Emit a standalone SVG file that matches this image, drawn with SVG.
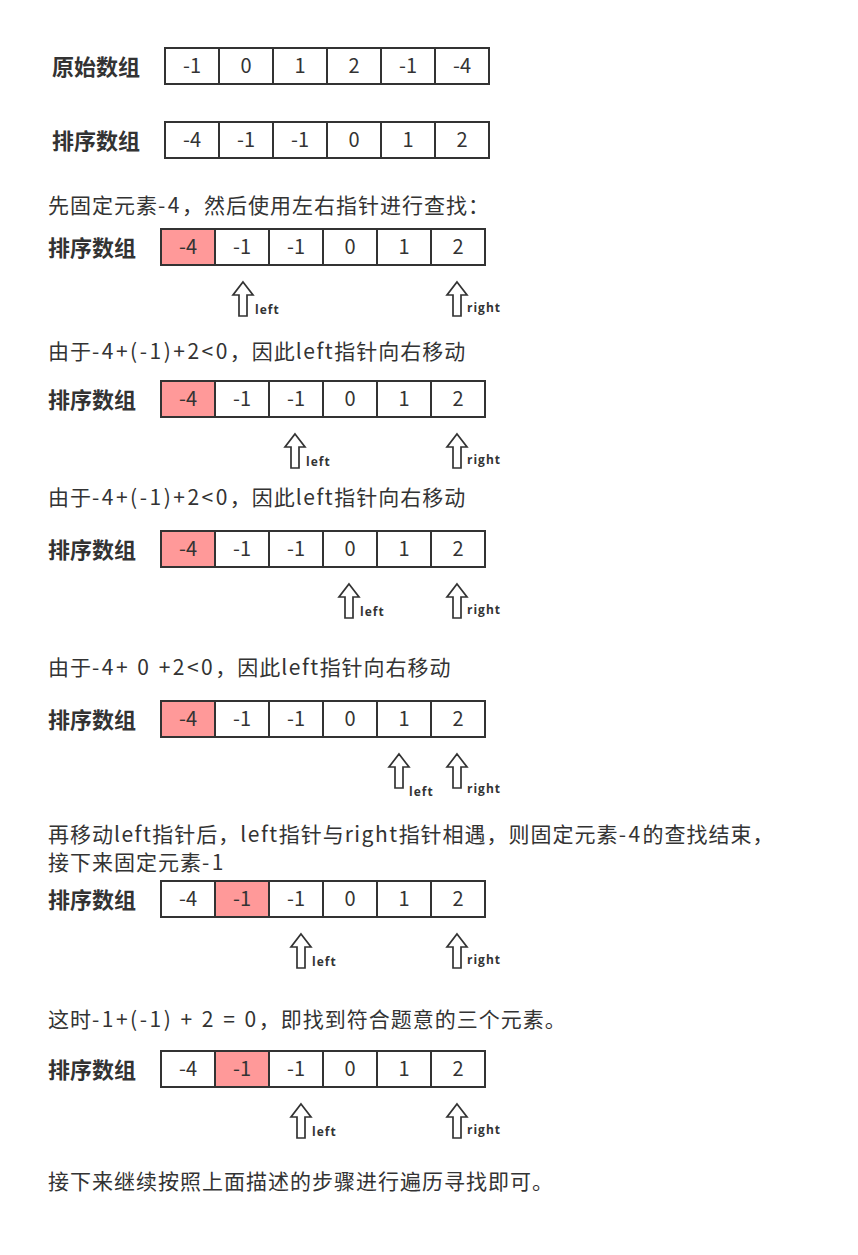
<svg xmlns="http://www.w3.org/2000/svg" xmlns:xlink="http://www.w3.org/1999/xlink" width="858" height="1255" viewBox="0 0 858 1255">
<style>
.bg{fill:#ffffff}
.cell{fill:#ffffff;stroke:#333333;stroke-width:2}
.hot{fill:#ff9999;stroke:#333333;stroke-width:2}
.num{font-family:"Noto Sans CJK SC","Noto Sans",sans-serif;font-size:20px;fill:#333333;text-anchor:middle}
.lab{font-family:"Noto Sans CJK SC",sans-serif;font-size:22px;font-weight:bold;fill:#333333}
.txt{font-family:"Noto Sans CJK SC",sans-serif;font-size:21px;fill:#333333;letter-spacing:1px}
.f{letter-spacing:2.5px}
.w{letter-spacing:1.5px}
.ptr{font-family:"Open Sans","Noto Sans",sans-serif;font-size:12px;font-weight:bold;fill:#333333;letter-spacing:1px}
.arr{fill:#ffffff;stroke:#333333;stroke-width:1.7;stroke-linejoin:miter}
</style>
<defs>
<path id="arrow" class="arr" d="M0,0 L10,13 L4,13 L4,34 L-4,34 L-4,13 L-10,13 Z"/>
</defs>
<rect class="bg" x="0" y="0" width="858" height="1255"/>

<g id="row-original">
<text class="lab" x="52" y="75">原始数组</text>
<rect class="cell" x="165" y="48" width="54" height="36"/><rect class="cell" x="219" y="48" width="54" height="36"/><rect class="cell" x="273" y="48" width="54" height="36"/><rect class="cell" x="327" y="48" width="54" height="36"/><rect class="cell" x="381" y="48" width="54" height="36"/><rect class="cell" x="435" y="48" width="54" height="36"/>
<text class="num" x="192" y="73">-1</text><text class="num" x="246" y="73">0</text><text class="num" x="300" y="73">1</text><text class="num" x="354" y="73">2</text><text class="num" x="408" y="73">-1</text><text class="num" x="462" y="73">-4</text>
</g>

<g id="row-sorted">
<text class="lab" x="52" y="149">排序数组</text>
<rect class="cell" x="165" y="122" width="54" height="36"/><rect class="cell" x="219" y="122" width="54" height="36"/><rect class="cell" x="273" y="122" width="54" height="36"/><rect class="cell" x="327" y="122" width="54" height="36"/><rect class="cell" x="381" y="122" width="54" height="36"/><rect class="cell" x="435" y="122" width="54" height="36"/>
<text class="num" x="192" y="147">-4</text><text class="num" x="246" y="147">-1</text><text class="num" x="300" y="147">-1</text><text class="num" x="354" y="147">0</text><text class="num" x="408" y="147">1</text><text class="num" x="462" y="147">2</text>
</g>

<text class="txt" x="48" y="213">先固定元素<tspan class="f">-4</tspan>，然后使用左右指针进行查找：</text>

<g id="step1">
<text class="lab" x="48" y="256">排序数组</text>
<rect class="hot" x="161" y="229" width="54" height="36"/><rect class="cell" x="215" y="229" width="54" height="36"/><rect class="cell" x="269" y="229" width="54" height="36"/><rect class="cell" x="323" y="229" width="54" height="36"/><rect class="cell" x="377" y="229" width="54" height="36"/><rect class="cell" x="431" y="229" width="54" height="36"/>
<text class="num" x="188" y="254">-4</text><text class="num" x="242" y="254">-1</text><text class="num" x="296" y="254">-1</text><text class="num" x="350" y="254">0</text><text class="num" x="404" y="254">1</text><text class="num" x="458" y="254">2</text>
<use xlink:href="#arrow" x="243" y="282"/><text class="ptr" x="255" y="314">left</text>
<use xlink:href="#arrow" x="457" y="282"/><text class="ptr" x="467" y="312">right</text>
</g>

<text class="txt" x="48" y="359">由于<tspan class="f">-4+(-1)+2&lt;0</tspan>，因此<tspan class="w">left</tspan>指针向右移动</text>

<g id="step2">
<text class="lab" x="48" y="408">排序数组</text>
<rect class="hot" x="161" y="381" width="54" height="36"/><rect class="cell" x="215" y="381" width="54" height="36"/><rect class="cell" x="269" y="381" width="54" height="36"/><rect class="cell" x="323" y="381" width="54" height="36"/><rect class="cell" x="377" y="381" width="54" height="36"/><rect class="cell" x="431" y="381" width="54" height="36"/>
<text class="num" x="188" y="406">-4</text><text class="num" x="242" y="406">-1</text><text class="num" x="296" y="406">-1</text><text class="num" x="350" y="406">0</text><text class="num" x="404" y="406">1</text><text class="num" x="458" y="406">2</text>
<use xlink:href="#arrow" x="295" y="434"/><text class="ptr" x="306" y="466">left</text>
<use xlink:href="#arrow" x="457" y="434"/><text class="ptr" x="467" y="464">right</text>
</g>

<text class="txt" x="48" y="505">由于<tspan class="f">-4+(-1)+2&lt;0</tspan>，因此<tspan class="w">left</tspan>指针向右移动</text>

<g id="step3">
<text class="lab" x="48" y="558">排序数组</text>
<rect class="hot" x="161" y="531" width="54" height="36"/><rect class="cell" x="215" y="531" width="54" height="36"/><rect class="cell" x="269" y="531" width="54" height="36"/><rect class="cell" x="323" y="531" width="54" height="36"/><rect class="cell" x="377" y="531" width="54" height="36"/><rect class="cell" x="431" y="531" width="54" height="36"/>
<text class="num" x="188" y="556">-4</text><text class="num" x="242" y="556">-1</text><text class="num" x="296" y="556">-1</text><text class="num" x="350" y="556">0</text><text class="num" x="404" y="556">1</text><text class="num" x="458" y="556">2</text>
<use xlink:href="#arrow" x="349" y="584"/><text class="ptr" x="360" y="616">left</text>
<use xlink:href="#arrow" x="457" y="584"/><text class="ptr" x="467" y="614">right</text>
</g>

<text class="txt" x="48" y="675">由于<tspan class="f">-4+ 0 +2&lt;0</tspan>，因此<tspan class="w">left</tspan>指针向右移动</text>

<g id="step4">
<text class="lab" x="48" y="728">排序数组</text>
<rect class="hot" x="161" y="701" width="54" height="36"/><rect class="cell" x="215" y="701" width="54" height="36"/><rect class="cell" x="269" y="701" width="54" height="36"/><rect class="cell" x="323" y="701" width="54" height="36"/><rect class="cell" x="377" y="701" width="54" height="36"/><rect class="cell" x="431" y="701" width="54" height="36"/>
<text class="num" x="188" y="726">-4</text><text class="num" x="242" y="726">-1</text><text class="num" x="296" y="726">-1</text><text class="num" x="350" y="726">0</text><text class="num" x="404" y="726">1</text><text class="num" x="458" y="726">2</text>
<use xlink:href="#arrow" x="399" y="754"/><text class="ptr" x="409" y="796">left</text>
<use xlink:href="#arrow" x="457" y="754"/><text class="ptr" x="467" y="793">right</text>
</g>

<text class="txt" x="48" y="842">再移动<tspan class="w">left</tspan>指针后，<tspan class="w">left</tspan>指针与<tspan class="w">right</tspan>指针相遇，则固定元素<tspan class="f">-4</tspan>的查找结束，</text>
<text class="txt" x="48" y="870">接下来固定元素<tspan class="f">-1</tspan></text>

<g id="step5">
<text class="lab" x="48" y="908">排序数组</text>
<rect class="cell" x="161" y="881" width="54" height="36"/><rect class="hot" x="215" y="881" width="54" height="36"/><rect class="cell" x="269" y="881" width="54" height="36"/><rect class="cell" x="323" y="881" width="54" height="36"/><rect class="cell" x="377" y="881" width="54" height="36"/><rect class="cell" x="431" y="881" width="54" height="36"/>
<text class="num" x="188" y="906">-4</text><text class="num" x="242" y="906">-1</text><text class="num" x="296" y="906">-1</text><text class="num" x="350" y="906">0</text><text class="num" x="404" y="906">1</text><text class="num" x="458" y="906">2</text>
<use xlink:href="#arrow" x="301" y="934"/><text class="ptr" x="312" y="966">left</text>
<use xlink:href="#arrow" x="457" y="934"/><text class="ptr" x="467" y="964">right</text>
</g>

<text class="txt" x="48" y="1027">这时<tspan class="f">-1+(-1) + 2 = 0</tspan>，即找到符合题意的三个元素。</text>

<g id="step6">
<text class="lab" x="48" y="1078">排序数组</text>
<rect class="cell" x="161" y="1051" width="54" height="36"/><rect class="hot" x="215" y="1051" width="54" height="36"/><rect class="cell" x="269" y="1051" width="54" height="36"/><rect class="cell" x="323" y="1051" width="54" height="36"/><rect class="cell" x="377" y="1051" width="54" height="36"/><rect class="cell" x="431" y="1051" width="54" height="36"/>
<text class="num" x="188" y="1076">-4</text><text class="num" x="242" y="1076">-1</text><text class="num" x="296" y="1076">-1</text><text class="num" x="350" y="1076">0</text><text class="num" x="404" y="1076">1</text><text class="num" x="458" y="1076">2</text>
<use xlink:href="#arrow" x="301" y="1104"/><text class="ptr" x="312" y="1136">left</text>
<use xlink:href="#arrow" x="457" y="1104"/><text class="ptr" x="467" y="1134">right</text>
</g>

<text class="txt" x="48" y="1189">接下来继续按照上面描述的步骤进行遍历寻找即可。</text>
</svg>
